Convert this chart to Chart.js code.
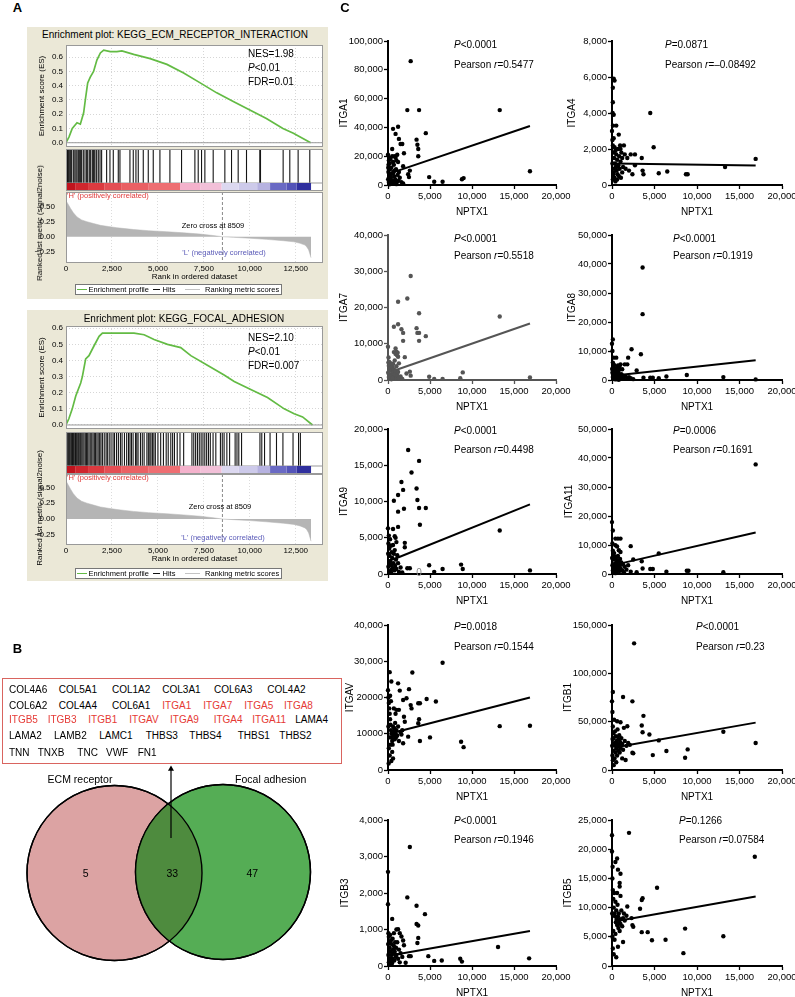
<!DOCTYPE html>
<html><head><meta charset="utf-8">
<script src="https://cdn.jsdelivr.net/npm/chart.js@4.4.1/dist/chart.umd.min.js"></script>
<style>
html,body{margin:0;padding:0;background:#fff;overflow:hidden;}
#root{position:relative;width:795px;height:997px;overflow:hidden;background:#fff;font-family:'Liberation Sans',Arial,Helvetica,sans-serif;color:#000;}
#root canvas{position:absolute;}
.t{position:absolute;white-space:nowrap;line-height:1;}
.box{position:absolute;box-sizing:border-box;}
</style></head>
<body><div id="root"></div>
<script>
// ======================= DATA =======================
// ---- Panel A : GSEA ----
const gseaTitles = ['Enrichment plot: KEGG_ECM_RECEPTOR_INTERACTION', 'Enrichment plot: KEGG_FOCAL_ADHESION'];
const gseaStats = [['NES=1.98', '<i>P</i>&lt;0.01', 'FDR=0.01'], ['NES=2.10', '<i>P</i>&lt;0.01', 'FDR=0.007']];
const rankTicks = [0, 2500, 5000, 7500, 10000, 12500];
const esTicks = [0, 0.1, 0.2, 0.3, 0.4, 0.5, 0.6];
const metricTicks = [-0.25, 0, 0.25, 0.5];
const zeroCross = 8509;
const esRankTop = [0,160,340,600,780,960,1050,1180,1320,1500,1680,1870,2050,2410,2770,3040,3680,4580,5490,6400,7300,8200,9100,10000,10900,11800,12370,12740,13310];
const esValTop  = [0,0.04,0.10,0.14,0.13,0.21,0.30,0.42,0.46,0.50,0.58,0.63,0.65,0.64,0.64,0.645,0.62,0.59,0.55,0.49,0.42,0.35,0.29,0.23,0.17,0.10,0.066,0.04,0];
const esRankBot = [0,160,340,530,800,890,1070,1250,1520,1800,1980,2430,2980,3700,4250,4790,5520,6240,6790,7690,8600,9150,10050,10960,11870,12410,12870,13410];
const esValBot  = [0,0.04,0.10,0.18,0.26,0.30,0.41,0.43,0.49,0.55,0.57,0.57,0.57,0.57,0.56,0.53,0.50,0.48,0.43,0.37,0.31,0.27,0.22,0.17,0.10,0.07,0.05,0];
const hitsTop = [36,80,127,170,217,260,308,399,480,543,600,670,725,797,851,942,1033,1123,1180,1268,1341,1431,1486,1530,1576,1667,1757,1850,1938,2210,2391,2572,2844,2935,3478,3659,3804,3931,4203,4475,4746,5109,5652,6286,7011,7192,7373,7554,8007,8641,9004,9366,9819,10543,10580,11812,12174,12627,13261];
const hitsBot = [20,60,110,150,200,260,310,350,400,450,520,580,640,690,750,800,860,920,980,1050,1120,1180,1250,1320,1400,1470,1540,1600,1680,1750,1830,1900,1980,2080,2180,2250,2350,2450,2560,2640,2750,2850,2960,3050,3180,3300,3400,3480,3560,3650,3780,3850,3920,4050,4150,4250,4400,4480,4560,4620,4700,4780,4860,5000,5150,5300,5450,5560,5700,5800,5900,6050,6200,6400,6850,6950,7050,7150,7250,7350,7450,7550,7650,7750,7850,8000,8150,8400,8500,8600,8750,8900,9200,9300,9400,9550,10550,10650,10800,11100,11450,11800,12350,12650,12750];
const metricRank = [0,100,250,400,600,850,1140,1500,1870,2300,2770,3200,3680,4500,5490,6400,7300,8000,8509,9100,10000,10900,11830,12400,12735,13000,13100,13200,13330];
const metricVal  = [0.60,0.55,0.47,0.40,0.33,0.28,0.25,0.22,0.19,0.17,0.15,0.135,0.12,0.10,0.083,0.065,0.044,0.02,0,-0.01,-0.025,-0.044,-0.067,-0.085,-0.11,-0.14,-0.17,-0.22,-0.35];
const colorBarEdges = [0,500,1200,2100,3000,4500,6200,7300,8460,9400,10400,11100,12000,12550,13330];
const colorBarColors = ['#c0141e','#d0262e','#dc3a40','#e44e54','#ea6064','#ee6e72','#f4b2cc','#f2c0d8','#dcd8f0','#cdcaea','#b6b2e0','#6a6ac4','#5454b8','#30309e'];
const legendLabels = ['Enrichment profile', 'Hits', 'Ranking metric scores'];
const corrLabels = ["'H' (positively correlated)", "Zero cross at 8509", "'L' (negatively correlated)"];
const axisTitlesA = ['Enrichment score (ES)', 'Ranked list metric (signal2noise)', 'Rank in ordered dataset'];

// ---- Panel B ----
const geneRows = [
  ['COL4A6','COL5A1','COL1A2','COL3A1','COL6A3','COL4A2'],
  ['COL6A2','COL4A4','COL6A1','ITGA1','ITGA7','ITGA5','ITGA8'],
  ['ITGB5','ITGB3','ITGB1','ITGAV','ITGA9','ITGA4','ITGA11','LAMA4'],
  ['LAMA2','LAMB2','LAMC1','THBS3','THBS4','THBS1','THBS2'],
  ['TNN','TNXB','TNC','VWF','FN1']
];
const highlighted = ['ITGA1','ITGA7','ITGA5','ITGA8','ITGB5','ITGB3','ITGB1','ITGAV','ITGA9','ITGA4','ITGA11'];
const vennSets = ['ECM receptor', 'Focal adhesion'];
const vennCounts = [5, 33, 47];

// ---- Panel C ----
const xLabel = 'NPTX1';
const xTicks = [0, 5000, 10000, 15000, 20000];
const geneNames = ['ITGA1','ITGA4','ITGA7','ITGA8','ITGA9','ITGA11','ITGAV','ITGB1','ITGB3','ITGB5'];
const pValues = ['<0.0001','=0.0871','<0.0001','<0.0001','<0.0001','=0.0006','=0.0018','<0.0001','<0.0001','=0.1266'];
const rValues = ['0.5477','\u20130.08492','0.5518','0.1919','0.4498','0.1691','0.1544','0.23','0.1946','0.07584'];
const yTickVals = {
  ITGA1:[0,20000,40000,60000,80000,100000], ITGA4:[0,2000,4000,6000,8000],
  ITGA7:[0,10000,20000,30000,40000], ITGA8:[0,10000,20000,30000,40000,50000],
  ITGA9:[0,5000,10000,15000,20000], ITGA11:[0,10000,20000,30000,40000,50000],
  ITGAV:[0,10000,20000,30000,40000], ITGB1:[0,50000,100000,150000],
  ITGB3:[0,1000,2000,3000,4000], ITGB5:[0,5000,10000,15000,20000,25000]
};
const yTickText = { ITGAV:['0','10000','20000','30,000','40,000'] };
const fitLines = {
  ITGA1:[[500,8600],[16900,41000]], ITGA4:[[300,1200],[16900,1080]],
  ITGA7:[[600,2500],[16900,15600]], ITGA8:[[600,1600],[16900,6800]],
  ITGA9:[[600,2000],[16900,9600]], ITGA11:[[800,3500],[16900,14300]],
  ITGAV:[[500,10200],[16900,20000]], ITGB1:[[800,24000],[16900,49000]],
  ITGB3:[[600,300],[16900,960]], ITGB5:[[600,7700],[16900,11900]]
};
const ITGA1 = [[2700,86000],[2300,52000],[3700,52000],[13300,52000],[16900,9500],[600,39000],[1200,40500],[900,35500],[1300,32000],[1500,28500],[1700,28500],[1900,22000],[3400,31500],[3500,28000],[3600,25000],[3600,20000],[4500,36000],[1800,13000],[2400,7500],[2600,10000],[2500,5500],[4900,5500],[5500,2300],[6500,2300],[8800,4000],[9000,4800],
 [0,21000],[100,17000],[200,15000],[300,18000],[400,12000],[500,20000],[600,16000],[700,14000],[800,20000],[900,19000],[1000,17000],[1100,21000],[1200,16000],[50,9000],[150,7000],[250,11000],[350,5000],[450,8000],[550,3000],[650,9000],[750,6000],[850,4000],[950,11000],[1050,2000],[1150,7000],[1250,3000],[1400,5000],[1600,2000],[1800,1000],[100,2000],[200,500],[300,3000],[400,1000],[20,4000],[30,12000],[60,14000],[500,25000],[700,2000],[1000,600],[150,19000],[600,8000],[800,10000],[300,7000],[1300,9000]];
const ITGA4 = [[200,5900],[300,5800],[100,5400],[100,4600],[200,3900],[500,3300],[800,2800],[1400,2200],[2200,1700],[2700,1700],[3500,1500],[4500,4000],[4900,2100],[2700,1100],[2400,600],[3600,800],[3700,600],[5500,650],[6500,750],[8700,600],[8900,600],[13300,1000],[16900,1450],
 [0,3000],[50,2500],[100,2200],[150,1800],[200,2600],[250,1500],[300,2100],[350,1200],[400,1900],[450,1000],[500,1700],[550,800],[600,1400],[650,600],[700,2000],[750,1100],[800,500],[850,1600],[900,900],[950,2200],[1000,1300],[1050,400],[1100,1800],[1200,700],[1300,1000],[1500,1700],[1600,900],[1800,1500],[2000,800],[100,300],[200,700],[300,400],[400,200],[500,1000],[50,1200],[150,600],[250,900],[600,300],[1000,2000],[1200,1500],[70,4000],[120,3300]];
const ITGA7 = [[2700,28700],[2300,22500],[1200,21600],[3700,18400],[13300,17500],[700,14700],[1200,15400],[1600,14000],[1800,13000],[1800,10800],[3400,14300],[3500,13000],[3700,13000],[3700,10800],[4500,12100],[2000,6300],[900,8700],[1000,7800],[1200,6400],[1300,4600],[2200,1800],[2600,2300],[2700,1200],[4900,900],[5500,300],[6500,300],[8600,500],[8900,2100],[16900,700],[0,9200],
 [50,4800],[100,3900],[150,5000],[200,2800],[250,4200],[300,3300],[350,1500],[400,4600],[450,2500],[500,3600],[550,1200],[600,4400],[650,2000],[700,3000],[750,800],[800,5400],[850,1700],[900,2600],[950,600],[1000,3800],[1100,1400],[1200,2200],[1300,500],[1500,1000],[1700,300],[100,800],[200,300],[300,1000],[400,200],[500,600],[20,2000],[60,6200],[700,7700],[900,7200],[1050,6900],[1150,7500]];
const ITGA8 = [[3600,38800],[3600,22700],[3400,8900],[2300,10600],[1900,7700],[1800,5400],[1500,5400],[1000,5400],[100,14000],[200,7700],[500,7700],[1200,3700],[2900,3300],[4500,800],[4800,800],[6400,1200],[8800,1700],[13100,1000],[16900,200],[5500,600],[3700,800],[0,12500],[50,10000],
 [100,6000],[150,4500],[200,3000],[250,5200],[300,2000],[350,4000],[400,1500],[450,3300],[500,2500],[550,1000],[600,4300],[650,1800],[700,3000],[750,600],[800,2200],[850,1200],[900,3600],[1000,900],[1100,2000],[1200,500],[1300,1500],[1400,900],[1600,1200],[1800,400],[2000,1000],[2200,600],[2500,300],[50,2500],[100,1000],[200,400],[300,800],[400,200],[600,300],[800,100],[20,3800],[700,5000],[900,4800]];
const ITGA9 = [[2400,17100],[2800,14000],[3700,15600],[3400,11800],[3500,10200],[3700,9100],[3800,6800],[4500,9100],[1600,12700],[1800,11600],[1200,10900],[1900,9000],[1200,8600],[700,10100],[1200,6500],[2000,4300],[2000,3700],[2300,800],[2600,800],[4900,1200],[5500,300],[6500,700],[8700,1300],[8900,700],[13300,6000],[16900,500],[600,6200],[0,6300],[100,5300],
 [50,4200],[150,3500],[200,2500],[250,4800],[300,1800],[350,3900],[400,1200],[450,3000],[500,2200],[550,800],[600,4000],[650,1500],[700,2800],[750,500],[800,3300],[850,1100],[900,5000],[950,2000],[1000,700],[1100,2600],[1200,1500],[1300,300],[1500,900],[1700,200],[50,1000],[150,400],[250,1400],[350,200],[450,600],[20,2800],[800,5200],[1000,4400]];
const ITGA11 = [[16900,37800],[0,17900],[100,15000],[400,12200],[700,12200],[1000,12200],[2200,9600],[5500,7100],[2500,5000],[3500,4400],[3600,1900],[4500,1700],[4800,1700],[6400,800],[8800,1100],[9000,1100],[13100,600],[2200,800],[2900,600],[800,8200],[1000,7600],[400,9900],[50,10500],
 [100,8000],[150,6500],[200,5000],[250,7200],[300,3500],[350,6000],[400,2500],[450,5500],[500,4000],[550,1500],[600,4800],[650,3000],[700,6200],[750,2000],[800,4200],[850,1000],[900,3000],[950,5200],[1000,2000],[1100,4000],[1200,1200],[1300,3300],[1400,600],[1500,2500],[1700,1500],[1900,3000],[50,3000],[100,1200],[200,500],[300,1800],[400,300],[500,900],[20,5500],[600,9500]];
const ITGAV = [[6500,29600],[2900,26900],[2500,22300],[1200,23900],[1400,21900],[1800,19300],[2200,19800],[4600,19600],[5700,18900],[3600,18400],[3800,18400],[2700,17900],[2800,17000],[1000,16600],[1300,16600],[1900,14700],[2000,13300],[3700,14000],[3600,12900],[5000,9000],[3800,8000],[2400,9200],[1800,7400],[8700,7800],[9000,6300],[13300,12100],[16900,12200],[600,3200],[200,27000],[400,24400],
 [0,22000],[50,20000],[100,18500],[150,17000],[200,15500],[250,14000],[300,12500],[350,11000],[400,10000],[450,9000],[500,8000],[550,7000],[600,12000],[650,10500],[700,9500],[750,11500],[800,8500],[850,13000],[900,10000],[950,9000],[1000,11000],[1100,9500],[1200,12000],[1300,8000],[1500,10500],[1700,11000],[50,12000],[100,6000],[150,9000],[200,4000],[300,7000],[400,2500],[500,5000],[80,1800],[250,20500],[350,19000],[700,17000],[1600,9800],[900,15500]];
const ITGB1 = [[2600,131000],[1300,75500],[2400,71000],[100,80700],[0,71000],[3700,56000],[3500,46000],[3600,39000],[4400,36700],[13100,39500],[16900,28000],[4800,15400],[6400,19600],[8600,12700],[8900,21300],[5500,30600],[2400,17900],[2500,17200],[1600,10300],[1200,12000],[600,50500],[1400,43600],[1800,45300],[1000,49400],
 [50,60000],[100,45000],[150,38000],[200,33000],[250,52000],[300,28000],[350,40000],[400,25000],[450,35000],[500,22000],[550,30000],[600,27000],[650,42000],[700,24000],[750,32000],[800,20000],[850,36000],[900,26000],[950,29000],[1000,23000],[1100,33000],[1200,27000],[1300,21000],[1500,30000],[1700,25000],[1900,28000],[2100,26000],[50,15000],[100,10000],[150,20000],[200,5000],[300,12000],[400,18000],[500,8000],[20,25000],[70,32000],[600,15000],[900,18000]];
const ITGB3 = [[2600,3260],[0,2580],[0,1690],[2300,1880],[3400,1650],[4400,1420],[3400,1150],[3600,1110],[3600,770],[3500,630],[500,1290],[1200,1010],[1400,900],[1600,810],[1800,700],[1900,570],[4800,270],[5500,140],[6400,150],[8600,200],[8800,120],[13100,520],[16800,210],[2100,90],[2500,270],[2700,270],
 [50,900],[100,800],[150,650],[200,500],[250,850],[300,400],[350,700],[400,300],[450,600],[500,200],[550,750],[600,450],[650,350],[700,550],[750,150],[800,400],[850,650],[900,250],[950,500],[1000,300],[1100,650],[1200,200],[1300,450],[1400,100],[1500,350],[1700,250],[50,300],[100,100],[150,400],[200,200],[300,50],[400,150],[500,80],[20,600],[700,900],[1000,1000]];
const ITGB5 = [[2000,22800],[0,22400],[0,19600],[16800,18700],[600,18400],[400,17800],[700,16500],[1000,15800],[900,14200],[900,13600],[5300,13400],[3500,11300],[3600,11600],[3300,9800],[1800,10200],[1400,9000],[2300,8200],[2400,7000],[2500,6700],[3500,5800],[4200,5800],[4700,4400],[6300,4500],[8600,6400],[8400,2200],[13100,5100],[1300,4100],[700,3300],
 [50,15000],[100,13000],[150,11500],[200,10000],[250,12500],[300,9000],[350,8500],[400,11000],[450,7500],[500,9500],[550,8000],[600,7000],[650,10500],[700,8500],[750,6500],[800,9000],[850,7500],[900,6000],[950,8000],[1000,7200],[1100,9500],[1200,6800],[1300,8200],[1500,7800],[1700,8600],[50,5000],[100,3000],[150,6000],[200,2000],[300,4500],[400,5500],[500,1500],[20,9000],[70,17000],[1000,12000],[600,12500]];
const scatterData = {ITGA1, ITGA4, ITGA7, ITGA8, ITGA9, ITGA11, ITGAV, ITGB1, ITGB3, ITGB5};

// ======================= LAYOUT / STYLE =======================
const BEIGE = '#ebe8d7';
const RED = '#e53935';
const XMAX = 13980;
const A_LAYOUT = [
  {box:[27,27,301,272], titleX:175, titleY:35, es:{y:40, padTop:5, min:-0.03, max:0.686}, hitsY:146, rk:{y:188, min:-0.438, max:0.745}, rkTitleY:223,
   statY:[54,68.3,81.7], Hy:196, Z:[213,225.7], L:[224,253.3], legY:284},
  {box:[27,310,301,271], titleX:184, titleY:319, es:{y:322, padTop:4, min:-0.025, max:0.614}, hitsY:429, rk:{y:470, min:-0.41, max:0.71}, rkTitleY:508,
   statY:[337.7,352.3,366], Hy:477.7, Z:[220,506.7], L:[223,537.7], legY:568}
];
const B_ROW_Y = [690, 705.7, 720, 735.7, 752.7];
const B_COL_X = [[9,58.7,112,162.3,214,267.3],[9,58.7,112,162.3,203.3,244.3,284],[9,47.7,88.3,129.3,170,213.7,252.3,295.3],[9,54,99.3,145.7,189.3,237.7,279.3],[9,37.7,77.3,106,137.7]];
const VENN = {left:{x:114.5,y:113}, right:{x:223,y:112}, r:87.5, arrow:[{x:171,y:78},{x:171,y:9}]};
const SC = {cols:[{x:335,w:240,wy:53,r:19},{x:560,w:235,wy:52,r:13}], rowTop:[41,235,429,625,820], rowZero:[185,380,574,770,966], padTop:11, xAxisH:36};
const yTitleX = [344,572,344,572,344,569,350,568,345,568];
const annX = [454,665,454,673,454,673,454,696,454,679];
const annY = [[45,65],[239,256],[431,450],[627,647],[821,840]];

// ======================= HELPERS =======================
const root = document.getElementById('root');
Chart.defaults.font.family = "'Liberation Sans', Arial, Helvetica, sans-serif";
Chart.defaults.color = '#000';
Chart.defaults.animation = false;
Chart.defaults.responsive = false;
Chart.defaults.maintainAspectRatio = false;
Chart.defaults.devicePixelRatio = 1;
Chart.defaults.events = [];
Chart.defaults.layout.autoPadding = false;
Chart.defaults.plugins.legend.display = false;
Chart.defaults.plugins.tooltip.enabled = false;

function mkCanvas(x, y, w, h) {
  const c = document.createElement('canvas');
  c.width = w; c.height = h;
  Object.assign(c.style, {left: x + 'px', top: y + 'px', width: w + 'px', height: h + 'px'});
  root.appendChild(c); return c;
}
function box(x, y, w, h, css) {
  const d = document.createElement('div'); d.className = 'box';
  Object.assign(d.style, {left: x + 'px', top: y + 'px', width: w + 'px', height: h + 'px'}, css || {});
  root.appendChild(d); return d;
}
function txt(html, x, y, o) {
  o = o || {};
  const d = document.createElement('div'); d.className = 't'; d.innerHTML = html;
  const s = d.style;
  s.left = x + 'px'; s.top = y + 'px'; s.fontSize = (o.size || 10) + 'px';
  if (o.color) s.color = o.color;
  if (o.weight) s.fontWeight = o.weight;
  const ax = o.anchor === 'c' ? '-50%' : o.anchor === 'r' ? '-100%' : '0';
  s.transformOrigin = o.anchor === 'c' ? 'center' : o.anchor === 'r' ? 'right' : 'left';
  s.transform = 'translate(' + ax + ',-50%)' + (o.rot ? ' rotate(' + o.rot + 'deg)' : '') + (o.sx ? ' scaleX(' + o.sx + ')' : '');
  root.appendChild(d); return d;
}
const fmt = v => String(v).replace(/\B(?=(\d{3})+(?!\d))/g, ',');
const fixed = size => s => { if (s.isHorizontal()) s.height = size; else s.width = size; s.paddingLeft = s.paddingRight = s.paddingTop = s.paddingBottom = 0; };
const setTicks = vals => s => { s.ticks = vals.map(v => ({value: v})); };
const xy = (xs, ys) => xs.map((x, i) => ({x: x, y: ys[i]}));
const pairs = arr => arr.map(p => ({x: p[0], y: p[1]}));
function framePlugin(color) {
  return {
    id: 'frame',
    beforeDraw(ch) { const a = ch.chartArea, c = ch.ctx; c.save(); c.fillStyle = '#fff'; c.fillRect(a.left, a.top, a.right - a.left, a.bottom - a.top); c.restore(); },
    afterDraw(ch) { const a = ch.chartArea, c = ch.ctx; c.save(); c.strokeStyle = color; c.lineWidth = 1; c.strokeRect(a.left + 0.5, a.top + 0.5, a.right - a.left - 1, a.bottom - a.top - 1); c.restore(); }
  };
}

// ======================= PANEL A =======================
txt('A', 17.5, 7, {size: 13, weight: 'bold', anchor: 'c'});
function buildGsea(k) {
  const L = A_LAYOUT[k];
  const es = k === 0 ? xy(esRankTop, esValTop) : xy(esRankBot, esValBot);
  const hits = k === 0 ? hitsTop : hitsBot;
  box(L.box[0], L.box[1], L.box[2], L.box[3], {background: BEIGE});
  // ES curve
  new Chart(mkCanvas(30, L.es.y, 296, 110), {
    type: 'line',
    data: {datasets: [
      {data: [{x: 0, y: 0}, {x: XMAX, y: 0}], borderColor: '#9a9a9a', borderWidth: 1, pointRadius: 0},
      {data: es, borderColor: '#63bb44', borderWidth: 1.7, pointRadius: 0}
    ]},
    options: {
      layout: {padding: {left: 0, top: L.es.padTop, right: 3, bottom: 3}},
      scales: {
        x: {type: 'linear', min: 0, max: XMAX, afterBuildTicks: setTicks(rankTicks), afterFit: fixed(0), ticks: {display: false}, grid: {drawTicks: false, color: '#d6d6d6'}, border: {display: false, dash: [1, 2]}},
        y: {type: 'linear', min: L.es.min, max: L.es.max, afterBuildTicks: setTicks(esTicks), afterFit: fixed(36),
            ticks: {font: {size: 8}, padding: 3, callback: v => v.toFixed(1)}, grid: {drawTicks: false, color: '#d6d6d6'}, border: {display: false, dash: [1, 2]},
            title: {display: true, text: axisTitlesA[0], font: {size: 8}, padding: {top: 7, bottom: 0}}}
      }
    },
    plugins: [framePlugin('#999')]
  });
  // hits + colour bar
  const barDs = colorBarColors.map((c, i) => ({data: [{x: colorBarEdges[i], y: 4}, {x: colorBarEdges[i + 1], y: 4}], borderColor: c, borderWidth: 8, borderCapStyle: 'butt', pointRadius: 0}));
  new Chart(mkCanvas(30, L.hitsY, 296, 48), {
    type: 'line',
    data: {datasets: barDs.concat([
      {data: [{x: 0, y: 8}, {x: XMAX, y: 8}], borderColor: '#999', borderWidth: 1, pointRadius: 0},
      {data: hits.map(r => ({x: r, y: 25})), showLine: false, pointStyle: 'line', pointRotation: 90, pointRadius: 17, pointBorderColor: '#151515', pointBackgroundColor: '#151515', pointBorderWidth: 1.1}
    ])},
    options: {
      layout: {padding: {left: 36, right: 3, top: 3, bottom: 3}},
      scales: {x: {type: 'linear', display: false, min: 0, max: XMAX}, y: {type: 'linear', display: false, min: 0, max: 42}}
    },
    plugins: [framePlugin('#999')]
  });
  // ranked list metric
  new Chart(mkCanvas(30, L.rk.y, 296, 95), {
    type: 'line',
    data: {datasets: [
      {data: xy(metricRank, metricVal), fill: 'origin', backgroundColor: '#b5b5b5', borderColor: '#b5b5b5', borderWidth: 0.5, pointRadius: 0},
      {data: [{x: zeroCross, y: L.rk.max}, {x: zeroCross, y: L.rk.min}], borderColor: '#8a8a8a', borderWidth: 1, borderDash: [3, 2], pointRadius: 0}
    ]},
    options: {
      layout: {padding: {left: 0, top: 4, right: 3, bottom: 0}},
      scales: {
        x: {type: 'linear', min: 0, max: XMAX, afterBuildTicks: setTicks(rankTicks), afterFit: fixed(20),
            ticks: {font: {size: 8}, padding: 1, maxRotation: 0, autoSkip: false, callback: v => fmt(v)},
            grid: {drawTicks: false, color: '#dcdcdc'}, border: {display: false, dash: [1, 2]},
            title: {display: true, text: axisTitlesA[2], font: {size: 8}, padding: {top: 0, bottom: 1}}},
        y: {type: 'linear', min: L.rk.min, max: L.rk.max, afterBuildTicks: setTicks(metricTicks), afterFit: fixed(36),
            ticks: {font: {size: 8}, padding: 3, callback: v => v < 0 ? '\u2212' + Math.abs(v).toFixed(2) : v.toFixed(2)},
            grid: {display: false}, border: {display: false}, title: {display: false}}
      }
    },
    plugins: [framePlugin('#999')]
  });
  // texts
  txt(axisTitlesA[1], 39.5, L.rkTitleY, {size: 8, anchor: 'c', rot: -90});
  txt(gseaTitles[k], L.titleX, L.titleY, {size: 10, anchor: 'c'});
  gseaStats[k].forEach((s, i) => txt(s, 248, L.statY[i], {size: 10}));
  txt(corrLabels[0], 67, L.Hy, {size: 7.5, color: '#e03a3a'});
  txt(corrLabels[1], L.Z[0], L.Z[1], {size: 7.5, anchor: 'c'});
  txt(corrLabels[2], L.L[0], L.L[1], {size: 7.5, anchor: 'c', color: '#5a5ab8'});
  // legend
  box(75, L.legY, 207, 11, {border: '1px solid #777', background: '#fff'});
  const ly = L.legY + 5.5;
  box(77, ly - 1, 10, 1.6, {background: '#63bb44'});
  txt(legendLabels[0], 88.5, ly, {size: 7.5});
  box(153, ly - 0.8, 7, 1.4, {background: '#111'});
  txt(legendLabels[1], 162.5, ly, {size: 7.5});
  box(185, ly - 0.6, 15, 1.2, {background: '#c4c4c4'});
  txt(legendLabels[2], 205, ly, {size: 7.5});
}
buildGsea(0);
buildGsea(1);

// ======================= PANEL B =======================
txt('B', 17.5, 648.3, {size: 13, weight: 'bold', anchor: 'c'});
box(2, 678, 340, 86, {border: '1.5px solid #d9645f'});
geneRows.forEach((row, r) => row.forEach((g, i) => txt(g, B_COL_X[r][i], B_ROW_Y[r], {size: 10, color: highlighted.includes(g) ? RED : '#000'})));
const vennOverlap = {
  id: 'vennOverlap',
  afterDatasetDraw(ch, args) {
    if (args.index !== 1) return;
    const a = ch.getDatasetMeta(0).data[0], b = ch.getDatasetMeta(1).data[0], c = ch.ctx, r = VENN.r;
    c.save();
    c.beginPath(); c.arc(a.x, a.y, r, 0, Math.PI * 2); c.clip();
    c.beginPath(); c.arc(b.x, b.y, r, 0, Math.PI * 2); c.fillStyle = '#4e8b3e'; c.fill();
    c.restore();
    c.save(); c.strokeStyle = '#000'; c.lineWidth = 1.4;
    c.beginPath(); c.arc(a.x, a.y, r, 0, Math.PI * 2); c.stroke();
    c.beginPath(); c.arc(b.x, b.y, r, 0, Math.PI * 2); c.stroke();
    c.restore();
  }
};
new Chart(mkCanvas(0, 760, 330, 215), {
  type: 'line',
  data: {datasets: [
    {data: [VENN.left], order: 3, showLine: false, pointRadius: VENN.r, pointBackgroundColor: '#dca3a3', pointBorderColor: '#000', pointBorderWidth: 1.4, clip: false},
    {data: [VENN.right], order: 2, showLine: false, pointRadius: VENN.r, pointBackgroundColor: '#55ad55', pointBorderColor: '#000', pointBorderWidth: 1.4, clip: false},
    {data: VENN.arrow, order: 1, showLine: true, borderColor: '#000', borderWidth: 1.2, pointRadius: [0, 3.5], pointStyle: 'triangle', pointBackgroundColor: '#000', pointBorderWidth: 0, clip: false}
  ]},
  options: {
    layout: {padding: 0},
    scales: {x: {type: 'linear', display: false, min: 0, max: 330}, y: {type: 'linear', display: false, min: 0, max: 215, reverse: true}}
  },
  plugins: [vennOverlap]
});
txt(vennSets[0], 80, 779, {size: 10.5, anchor: 'c'});
txt(vennSets[1], 270.7, 779, {size: 10.5, anchor: 'c'});
txt(String(vennCounts[0]), 85.7, 873, {size: 10.5, anchor: 'c'});
txt(String(vennCounts[1]), 172.3, 873, {size: 10.5, anchor: 'c'});
txt(String(vennCounts[2]), 252.3, 873, {size: 10.5, anchor: 'c'});

// ======================= PANEL C =======================
txt('C', 345, 7, {size: 13, weight: 'bold', anchor: 'c'});
function buildScatter(i) {
  const name = geneNames[i], col = SC.cols[i % 2], row = Math.floor(i / 2);
  const top = SC.rowTop[row], zero = SC.rowZero[row];
  const cy = top - SC.padTop, h = zero - cy + SC.xAxisH;
  const ink = name === 'ITGA7' ? '#555' : '#000';
  const yt = yTickVals[name];
  const ylab = yTickText[name] || yt.map(fmt);
  const fl = fitLines[name];
  const axisCommon = {
    grid: {drawOnChartArea: false, drawTicks: true, tickLength: 4, color: ink, tickColor: ink, tickWidth: 1.3},
    border: {display: true, color: ink, width: 2}
  };
  new Chart(mkCanvas(col.x, cy, col.w, h), {
    type: 'line',
    data: {datasets: [
      {data: pairs(scatterData[name]), showLine: false, pointRadius: 2.2, pointBackgroundColor: ink, pointBorderWidth: 0, clip: false},
      {data: pairs(fl), showLine: true, borderColor: ink, borderWidth: 2, pointRadius: 0, clip: false}
    ]},
    options: {
      layout: {padding: {left: 0, top: SC.padTop, right: col.r, bottom: 0}},
      scales: {
        x: Object.assign({type: 'linear', min: 0, max: 20000, afterBuildTicks: setTicks(xTicks), afterFit: fixed(SC.xAxisH),
          ticks: {font: {size: 9.5}, padding: 2, maxRotation: 0, autoSkip: false, callback: v => fmt(v)},
          title: {display: true, text: xLabel, font: {size: 10}, padding: {top: 0, bottom: 3}}}, axisCommon),
        y: Object.assign({type: 'linear', min: 0, max: yt[yt.length - 1], afterBuildTicks: setTicks(yt), afterFit: fixed(col.wy),
          ticks: {font: {size: 9.5}, padding: 1, callback: (v, idx) => ylab[idx]},
          title: {display: true, text: name, font: {size: 10}, padding: {top: yTitleX[i] - col.x - 6, bottom: 0}}}, axisCommon)
      }
    }
  });
  txt('<i>P</i>' + pValues[i].replace('<', '&lt;'), annX[i], annY[row][0], {size: 10});
  txt('Pearson <i>r</i>=' + rValues[i], annX[i], annY[row][1], {size: 10});
}
geneNames.forEach((g, i) => buildScatter(i));
txt('0', 419, 572.5, {size: 10, color: '#888', anchor: 'c'});
</script></body></html>
